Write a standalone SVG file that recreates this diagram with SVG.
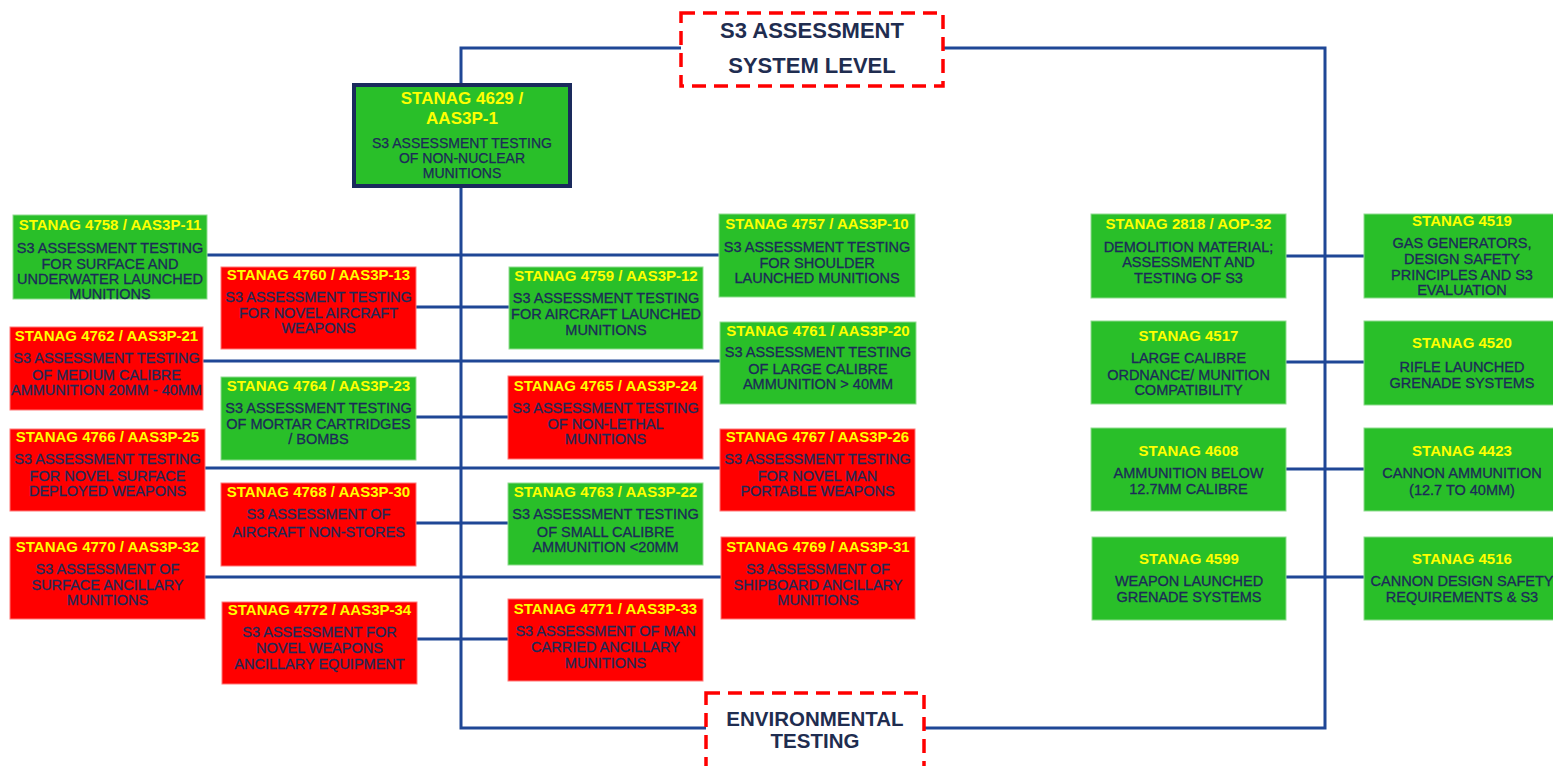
<svg xmlns="http://www.w3.org/2000/svg" width="1553" height="766" viewBox="0 0 1553 766">
<style>
.g{fill:#29bf29;stroke:#8fdc8f;stroke-width:1}
.r{fill:#ff0000;stroke:#ff7878;stroke-width:1}
.h{font-family:"Liberation Sans",Arial,sans-serif;font-weight:bold;font-size:15px;fill:#ffff00;text-anchor:middle}
.b{font-family:"Liberation Sans",Arial,sans-serif;font-size:14.5px;fill:#1c2a58;stroke:#1c2a58;stroke-width:0.3;text-anchor:middle}
.mh{font-family:"Liberation Sans",Arial,sans-serif;font-weight:bold;font-size:17px;fill:#ffff00;text-anchor:middle}
.mb{font-family:"Liberation Sans",Arial,sans-serif;font-size:14px;fill:#1c2a58;stroke:#1c2a58;stroke-width:0.25;text-anchor:middle}
.dash{fill:#ffffff;stroke:#ff0000;stroke-width:3.5;stroke-dasharray:14 8}
.t{font-family:"Liberation Sans",Arial,sans-serif;font-weight:bold;font-size:22px;fill:#1f2d50;text-anchor:middle}
.te{font-family:"Liberation Sans",Arial,sans-serif;font-weight:bold;font-size:20.5px;fill:#1f2d50;text-anchor:middle}
.c{stroke:#1f4796;stroke-width:3;fill:none}
</style>
<rect width="1553" height="766" fill="#ffffff"/>
<g id="connectors">
<path class="c" d="M461,85 V48 H681"/>
<path class="c" d="M943,48 H1325 V728 H924"/>
<path class="c" d="M461,186 V728 H706"/>
<path class="c" d="M207,255 H719"/>
<path class="c" d="M416,307 H509"/>
<path class="c" d="M203,361 H720"/>
<path class="c" d="M416,417 H508"/>
<path class="c" d="M205,468 H720"/>
<path class="c" d="M416,523 H508"/>
<path class="c" d="M205,577 H721"/>
<path class="c" d="M417,639 H508"/>
<path class="c" d="M1286,256 H1364"/>
<path class="c" d="M1286,362 H1364"/>
<path class="c" d="M1286,469 H1364"/>
<path class="c" d="M1286,577 H1364"/>
</g>
<g id="top">
<rect class="dash" x="681" y="13" width="262" height="73"/>
<text class="t" x="812" y="38">S3 ASSESSMENT</text>
<text class="t" x="812" y="73">SYSTEM LEVEL</text>
</g>
<g id="env">
<rect class="dash" x="706" y="693" width="218" height="85"/>
<text class="te" x="815" y="726">ENVIRONMENTAL</text>
<text class="te" x="815" y="748">TESTING</text>
</g>
<g id="n4629">
<rect x="354" y="85" width="216" height="101" fill="#29bf29" stroke="#1a2a5c" stroke-width="4"/>
<text class="mh" x="462" y="104">STANAG 4629 /</text>
<text class="mh" x="462" y="124">AAS3P-1</text>
<text class="mb" x="462" y="148">S3 ASSESSMENT TESTING</text>
<text class="mb" x="462" y="163">OF NON-NUCLEAR</text>
<text class="mb" x="462" y="178">MUNITIONS</text>
</g>
<g id="n4758">
<rect class="g" x="13" y="215" width="194" height="84"/>
<text class="h" x="110" y="230">STANAG 4758 / AAS3P-11</text>
<text class="b" x="110" y="253">S3 ASSESSMENT TESTING</text>
<text class="b" x="110" y="269">FOR SURFACE AND</text>
<text class="b" x="110" y="284">UNDERWATER LAUNCHED</text>
<text class="b" x="110" y="299">MUNITIONS</text>
</g>
<g id="n4762">
<rect class="r" x="10" y="327" width="193" height="83"/>
<text class="h" x="106.5" y="341">STANAG 4762 / AAS3P-21</text>
<text class="b" x="106.5" y="363">S3 ASSESSMENT TESTING</text>
<text class="b" x="106.5" y="380">OF MEDIUM CALIBRE</text>
<text class="b" x="106.5" y="395">AMMUNITION 20MM - 40MM</text>
</g>
<g id="n4766">
<rect class="r" x="10" y="429" width="195" height="82"/>
<text class="h" x="107.5" y="442">STANAG 4766 / AAS3P-25</text>
<text class="b" x="107.5" y="464">S3 ASSESSMENT TESTING</text>
<text class="b" x="107.5" y="481">FOR NOVEL SURFACE</text>
<text class="b" x="107.5" y="496">DEPLOYED WEAPONS</text>
</g>
<g id="n4770">
<rect class="r" x="10" y="537" width="195" height="82"/>
<text class="h" x="107.5" y="552">STANAG 4770 / AAS3P-32</text>
<text class="b" x="107.5" y="574">S3 ASSESSMENT OF</text>
<text class="b" x="107.5" y="590">SURFACE ANCILLARY</text>
<text class="b" x="107.5" y="605">MUNITIONS</text>
</g>
<g id="n4760">
<rect class="r" x="221" y="267" width="195" height="82"/>
<text class="h" x="318.5" y="280">STANAG 4760 / AAS3P-13</text>
<text class="b" x="318.5" y="302">S3 ASSESSMENT TESTING</text>
<text class="b" x="318.5" y="318">FOR NOVEL AIRCRAFT</text>
<text class="b" x="318.5" y="333">WEAPONS</text>
</g>
<g id="n4764">
<rect class="g" x="221" y="377" width="195" height="83"/>
<text class="h" x="318.5" y="391">STANAG 4764 / AAS3P-23</text>
<text class="b" x="318.5" y="413">S3 ASSESSMENT TESTING</text>
<text class="b" x="318.5" y="429">OF MORTAR CARTRIDGES</text>
<text class="b" x="318.5" y="444">/ BOMBS</text>
</g>
<g id="n4768">
<rect class="r" x="221" y="483" width="195" height="83"/>
<text class="h" x="318.5" y="497">STANAG 4768 / AAS3P-30</text>
<text class="b" x="318.5" y="519">S3 ASSESSMENT OF</text>
<text class="b" x="318.5" y="537">AIRCRAFT NON-STORES</text>
</g>
<g id="n4772">
<rect class="r" x="222" y="602" width="195" height="82"/>
<text class="h" x="319.5" y="615">STANAG 4772 / AAS3P-34</text>
<text class="b" x="319.5" y="637">S3 ASSESSMENT FOR</text>
<text class="b" x="319.5" y="653">NOVEL WEAPONS</text>
<text class="b" x="319.5" y="669">ANCILLARY EQUIPMENT</text>
</g>
<g id="n4759">
<rect class="g" x="509" y="267" width="194" height="82"/>
<text class="h" x="606" y="281">STANAG 4759 / AAS3P-12</text>
<text class="b" x="606" y="303">S3 ASSESSMENT TESTING</text>
<text class="b" x="606" y="319">FOR AIRCRAFT LAUNCHED</text>
<text class="b" x="606" y="335">MUNITIONS</text>
</g>
<g id="n4765">
<rect class="r" x="508" y="376" width="195" height="83"/>
<text class="h" x="605.5" y="391">STANAG 4765 / AAS3P-24</text>
<text class="b" x="605.5" y="413">S3 ASSESSMENT TESTING</text>
<text class="b" x="605.5" y="429">OF NON-LETHAL</text>
<text class="b" x="605.5" y="444">MUNITIONS</text>
</g>
<g id="n4763">
<rect class="g" x="508" y="483" width="195" height="82"/>
<text class="h" x="605.5" y="497">STANAG 4763 / AAS3P-22</text>
<text class="b" x="605.5" y="519">S3 ASSESSMENT TESTING</text>
<text class="b" x="605.5" y="537">OF SMALL CALIBRE</text>
<text class="b" x="605.5" y="552">AMMUNITION &lt;20MM</text>
</g>
<g id="n4771">
<rect class="r" x="508" y="599" width="195" height="82"/>
<text class="h" x="605.5" y="614">STANAG 4771 / AAS3P-33</text>
<text class="b" x="605.5" y="636">S3 ASSESSMENT OF MAN</text>
<text class="b" x="605.5" y="652">CARRIED ANCILLARY</text>
<text class="b" x="605.5" y="668">MUNITIONS</text>
</g>
<g id="n4757">
<rect class="g" x="719" y="214" width="196" height="83"/>
<text class="h" x="817" y="229">STANAG 4757 / AAS3P-10</text>
<text class="b" x="817" y="252">S3 ASSESSMENT TESTING</text>
<text class="b" x="817" y="268">FOR SHOULDER</text>
<text class="b" x="817" y="283">LAUNCHED MUNITIONS</text>
</g>
<g id="n4761">
<rect class="g" x="720" y="322" width="196" height="82"/>
<text class="h" x="818" y="336">STANAG 4761 / AAS3P-20</text>
<text class="b" x="818" y="357">S3 ASSESSMENT TESTING</text>
<text class="b" x="818" y="374">OF LARGE CALIBRE</text>
<text class="b" x="818" y="389">AMMUNITION &gt; 40MM</text>
</g>
<g id="n4767">
<rect class="r" x="720" y="429" width="195" height="82"/>
<text class="h" x="817.5" y="442">STANAG 4767 / AAS3P-26</text>
<text class="b" x="817.5" y="464">S3 ASSESSMENT TESTING</text>
<text class="b" x="817.5" y="481">FOR NOVEL MAN</text>
<text class="b" x="817.5" y="496">PORTABLE WEAPONS</text>
</g>
<g id="n4769">
<rect class="r" x="721" y="537" width="194" height="82"/>
<text class="h" x="818" y="552">STANAG 4769 / AAS3P-31</text>
<text class="b" x="818" y="574">S3 ASSESSMENT OF</text>
<text class="b" x="818" y="590">SHIPBOARD ANCILLARY</text>
<text class="b" x="818" y="605">MUNITIONS</text>
</g>
<g id="n2818">
<rect class="g" x="1091" y="214" width="195" height="84"/>
<text class="h" x="1188.5" y="229">STANAG 2818 / AOP-32</text>
<text class="b" x="1188.5" y="252">DEMOLITION MATERIAL;</text>
<text class="b" x="1188.5" y="267">ASSESSMENT AND</text>
<text class="b" x="1188.5" y="283">TESTING OF S3</text>
</g>
<g id="n4517">
<rect class="g" x="1091" y="321" width="195" height="83"/>
<text class="h" x="1188.5" y="341">STANAG 4517</text>
<text class="b" x="1188.5" y="363">LARGE CALIBRE</text>
<text class="b" x="1188.5" y="380">ORDNANCE/ MUNITION</text>
<text class="b" x="1188.5" y="395">COMPATIBILITY</text>
</g>
<g id="n4608">
<rect class="g" x="1091" y="428" width="195" height="83"/>
<text class="h" x="1188.5" y="456">STANAG 4608</text>
<text class="b" x="1188.5" y="478">AMMUNITION BELOW</text>
<text class="b" x="1188.5" y="494">12.7MM CALIBRE</text>
</g>
<g id="n4599">
<rect class="g" x="1092" y="537" width="194" height="83"/>
<text class="h" x="1189" y="564">STANAG 4599</text>
<text class="b" x="1189" y="586">WEAPON LAUNCHED</text>
<text class="b" x="1189" y="602">GRENADE SYSTEMS</text>
</g>
<g id="n4519">
<rect class="g" x="1364" y="214" width="196" height="84"/>
<text class="h" x="1462" y="226">STANAG 4519</text>
<text class="b" x="1462" y="248">GAS GENERATORS,</text>
<text class="b" x="1462" y="264">DESIGN SAFETY</text>
<text class="b" x="1462" y="280">PRINCIPLES AND S3</text>
<text class="b" x="1462" y="295">EVALUATION</text>
</g>
<g id="n4520">
<rect class="g" x="1364" y="321" width="196" height="84"/>
<text class="h" x="1462" y="348">STANAG 4520</text>
<text class="b" x="1462" y="372">RIFLE LAUNCHED</text>
<text class="b" x="1462" y="388">GRENADE SYSTEMS</text>
</g>
<g id="n4423">
<rect class="g" x="1364" y="428" width="196" height="83"/>
<text class="h" x="1462" y="456">STANAG 4423</text>
<text class="b" x="1462" y="478">CANNON AMMUNITION</text>
<text class="b" x="1462" y="495">(12.7 TO 40MM)</text>
</g>
<g id="n4516">
<rect class="g" x="1364" y="537" width="196" height="83"/>
<text class="h" x="1462" y="564">STANAG 4516</text>
<text class="b" x="1462" y="586">CANNON DESIGN SAFETY</text>
<text class="b" x="1462" y="602">REQUIREMENTS &amp; S3</text>
</g>
</svg>
